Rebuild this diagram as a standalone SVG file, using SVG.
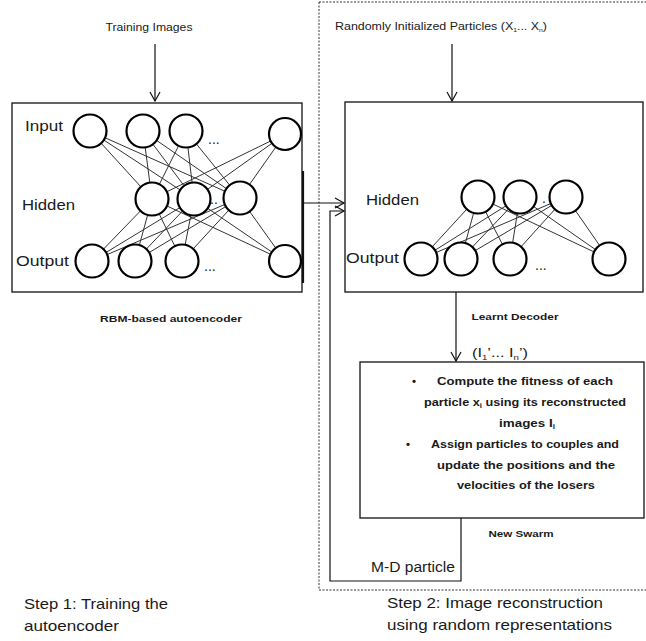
<svg xmlns="http://www.w3.org/2000/svg" width="646" height="641" viewBox="0 0 646 641">
<defs>
<marker id="arr" markerWidth="12" markerHeight="12" refX="10" refY="6" orient="auto" markerUnits="userSpaceOnUse">
<polyline points="1,1 10,6 1,11" fill="none" stroke="#111" stroke-width="1.2"/>
</marker>
<style>
.box{fill:none;stroke:#111;stroke-width:1.3}
.n{fill:#fff;stroke:#000;stroke-width:2.2}
.e{stroke:#333;stroke-width:1}
.ln{fill:none;stroke:#111;stroke-width:1.2}
.t{font-family:"Liberation Sans",Arial,sans-serif;fill:#1a1a1a}
.b{font-family:"Liberation Sans",Arial,sans-serif;font-weight:bold;fill:#1a1a1a}
</style>
</defs>
<rect width="646" height="641" fill="#fff"/>

<g id="step2-frame">
<rect x="319" y="2" width="330" height="588" fill="none" stroke="#333" stroke-width="1" stroke-dasharray="2,1.5"/>
</g>

<g id="connectors">
<line class="ln" x1="155" y1="44" x2="155" y2="101" marker-end="url(#arr)"/>
<line class="ln" x1="452" y1="44" x2="452" y2="101" marker-end="url(#arr)"/>
<line x1="303" y1="171" x2="303" y2="283" stroke="#111" stroke-width="2.2"/>
<line class="ln" x1="303" y1="203" x2="344" y2="203" marker-end="url(#arr)"/>
<line class="ln" x1="456" y1="292" x2="456" y2="361" marker-end="url(#arr)"/>
<polyline class="ln" points="461,518 461,581 330,581 330,211 344,211" marker-end="url(#arr)"/>
</g>

<g id="rbm-autoencoder">
<rect class="box" x="12" y="103" width="290" height="189"/>
<g id="rbm-edges">
<line class="e" x1="90" y1="131" x2="152" y2="199"/><line class="e" x1="90" y1="131" x2="194" y2="199"/><line class="e" x1="90" y1="131" x2="240" y2="198"/>
<line class="e" x1="143" y1="131" x2="152" y2="199"/><line class="e" x1="143" y1="131" x2="194" y2="199"/><line class="e" x1="143" y1="131" x2="240" y2="198"/>
<line class="e" x1="186" y1="131" x2="152" y2="199"/><line class="e" x1="186" y1="131" x2="194" y2="199"/><line class="e" x1="186" y1="131" x2="240" y2="198"/>
<line class="e" x1="285" y1="134" x2="152" y2="199"/><line class="e" x1="285" y1="134" x2="194" y2="199"/><line class="e" x1="285" y1="134" x2="240" y2="198"/>
<line class="e" x1="152" y1="199" x2="92" y2="261"/><line class="e" x1="152" y1="199" x2="135" y2="261"/><line class="e" x1="152" y1="199" x2="182" y2="261"/><line class="e" x1="152" y1="199" x2="285" y2="261"/>
<line class="e" x1="194" y1="199" x2="92" y2="261"/><line class="e" x1="194" y1="199" x2="135" y2="261"/><line class="e" x1="194" y1="199" x2="182" y2="261"/><line class="e" x1="194" y1="199" x2="285" y2="261"/>
<line class="e" x1="240" y1="198" x2="92" y2="261"/><line class="e" x1="240" y1="198" x2="135" y2="261"/><line class="e" x1="240" y1="198" x2="182" y2="261"/><line class="e" x1="240" y1="198" x2="285" y2="261"/>
</g>
<circle class="n" cx="90" cy="131" r="16.5"/>
<circle class="n" cx="143" cy="131" r="16.5"/>
<circle class="n" cx="186" cy="131" r="16.5"/>
<circle class="n" cx="285" cy="134" r="16"/>
<circle class="n" cx="152" cy="199" r="16.5"/>
<circle class="n" cx="194" cy="199" r="16.5"/>
<circle class="n" cx="240" cy="198" r="16.5"/>
<circle class="n" cx="92" cy="261" r="16.5"/>
<circle class="n" cx="135" cy="261" r="16.5"/>
<circle class="n" cx="182" cy="261" r="16.5"/>
<circle class="n" cx="285" cy="261" r="16"/>
<text class="t" x="208" y="144" font-size="14">...</text>
<text class="t" x="210" y="204" font-size="14">..</text>
<text class="t" x="204" y="271" font-size="14">...</text>
<text class="t" x="25" y="131" font-size="15" textLength="38" lengthAdjust="spacingAndGlyphs">Input</text>
<text class="t" x="22" y="210" font-size="15" textLength="53" lengthAdjust="spacingAndGlyphs">Hidden</text>
<text class="t" x="16" y="266" font-size="15" textLength="53" lengthAdjust="spacingAndGlyphs">Output</text>
</g>

<g id="learnt-decoder">
<rect class="box" x="345" y="102" width="298" height="190"/>
<g id="dec-edges">
<line class="e" x1="478" y1="197" x2="421" y2="259"/><line class="e" x1="478" y1="197" x2="461" y2="259"/><line class="e" x1="478" y1="197" x2="510" y2="259"/><line class="e" x1="478" y1="197" x2="609" y2="259"/>
<line class="e" x1="520" y1="197" x2="421" y2="259"/><line class="e" x1="520" y1="197" x2="461" y2="259"/><line class="e" x1="520" y1="197" x2="510" y2="259"/><line class="e" x1="520" y1="197" x2="609" y2="259"/>
<line class="e" x1="566" y1="197" x2="421" y2="259"/><line class="e" x1="566" y1="197" x2="461" y2="259"/><line class="e" x1="566" y1="197" x2="510" y2="259"/><line class="e" x1="566" y1="197" x2="609" y2="259"/>
</g>
<circle class="n" cx="478" cy="197" r="16.5"/>
<circle class="n" cx="520" cy="197" r="16.5"/>
<circle class="n" cx="566" cy="197" r="16.5"/>
<circle class="n" cx="421" cy="259" r="16.5"/>
<circle class="n" cx="461" cy="259" r="16.5"/>
<circle class="n" cx="510" cy="259" r="16.5"/>
<circle class="n" cx="609" cy="259" r="16.5"/>
<text class="t" x="542" y="203" font-size="14">.</text>
<text class="t" x="535" y="270" font-size="14">...</text>
<text class="t" x="366" y="205" font-size="15" textLength="53" lengthAdjust="spacingAndGlyphs">Hidden</text>
<text class="t" x="346" y="263" font-size="15" textLength="53" lengthAdjust="spacingAndGlyphs">Output</text>
</g>

<g id="swarm-update">
<rect class="box" x="360" y="362" width="284" height="156"/>
<text class="b" x="412" y="385" font-size="11.5">•</text>
<text class="b" x="525" y="385" font-size="11.5" text-anchor="middle" textLength="176" lengthAdjust="spacingAndGlyphs">Compute  the  fitness of  each</text>
<text class="b" x="525" y="406" font-size="11.5" text-anchor="middle" textLength="202" lengthAdjust="spacingAndGlyphs">particle  x<tspan font-size="7" dy="2">i</tspan><tspan dy="-2"> using its  reconstructed</tspan></text>
<text class="b" x="527" y="427" font-size="11.5" text-anchor="middle" textLength="56" lengthAdjust="spacingAndGlyphs">images I<tspan font-size="7" dy="2">i</tspan></text>
<text class="b" x="406" y="448" font-size="11.5">•</text>
<text class="b" x="525" y="448" font-size="11.5" text-anchor="middle" textLength="188" lengthAdjust="spacingAndGlyphs">Assign particles to couples  and</text>
<text class="b" x="526" y="469" font-size="11.5" text-anchor="middle" textLength="178" lengthAdjust="spacingAndGlyphs">update  the  positions  and  the</text>
<text class="b" x="526" y="489" font-size="11.5" text-anchor="middle" textLength="138" lengthAdjust="spacingAndGlyphs">velocities of the losers</text>
</g>

<g id="labels">
<text class="t" x="149" y="31" font-size="11" text-anchor="middle" textLength="87" lengthAdjust="spacingAndGlyphs">Training Images</text>
<text class="t" x="335" y="30" font-size="11" textLength="212" lengthAdjust="spacingAndGlyphs">Randomly Initialized Particles (X<tspan font-size="6" dy="2">1</tspan><tspan dy="-2">... X</tspan><tspan font-size="6" dy="2">n</tspan><tspan dy="-2">)</tspan></text>
<text class="b" x="171" y="322" font-size="9.5" text-anchor="middle" textLength="142" lengthAdjust="spacingAndGlyphs">RBM-based  autoencoder</text>
<text class="b" x="515" y="320" font-size="9.5" text-anchor="middle" textLength="87" lengthAdjust="spacingAndGlyphs">Learnt Decoder</text>
<text class="t" x="472" y="357" font-size="13.5" fill="#333" textLength="56" lengthAdjust="spacingAndGlyphs">(I<tspan font-size="8" dy="3">1</tspan><tspan dy="-3">’... I</tspan><tspan font-size="8" dy="3">n</tspan><tspan dy="-3">’)</tspan></text>
<text class="b" x="521" y="537" font-size="9.5" text-anchor="middle" textLength="65" lengthAdjust="spacingAndGlyphs">New Swarm</text>
<text class="t" x="371" y="572" font-size="14" textLength="84" lengthAdjust="spacingAndGlyphs">M-D particle</text>
<text class="t" x="24" y="609" font-size="15" textLength="144" lengthAdjust="spacingAndGlyphs">Step 1: Training the</text>
<text class="t" x="24" y="631" font-size="15" textLength="95" lengthAdjust="spacingAndGlyphs">autoencoder</text>
<text class="t" x="387" y="608" font-size="15" textLength="216" lengthAdjust="spacingAndGlyphs">Step 2: Image  reconstruction</text>
<text class="t" x="387" y="630" font-size="15" textLength="225" lengthAdjust="spacingAndGlyphs">using random representations</text>
</g>
</svg>
